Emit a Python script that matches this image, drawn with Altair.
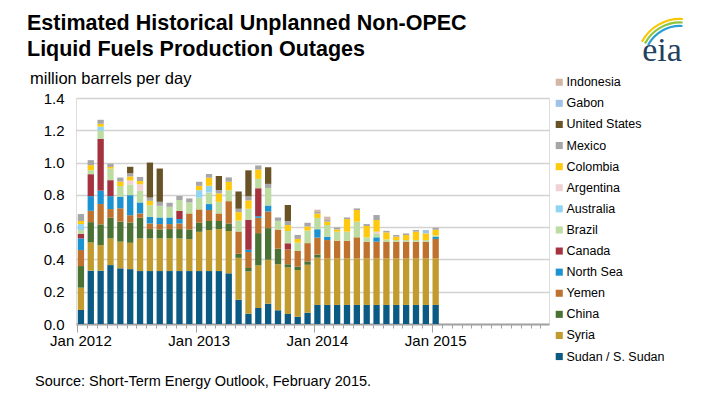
import altair as alt
import pandas as pd

# 48 monthly slots on the axis (Jan 2012 - Dec 2015); data run Jan 2012 - Jan 2015
years = [2012, 2013, 2014, 2015]
slots = [f"{y}-{m:02d}" for y in years for m in range(1, 13)]

series = ["Sudan / S. Sudan", "Syria", "China", "Yemen", "North Sea", "Canada", "Brazil",
          "Australia", "Argentina", "Colombia", "Mexico", "United States", "Gabon", "Indonesia"]
colors = ["#0b5a83", "#c29b2f", "#4a7234", "#bf722e", "#1b93d1", "#a4323f", "#bddca1",
          "#91d4f2", "#efd1d6", "#ffc90e", "#a6a6a8", "#685327", "#9fc3e6", "#d4b6a6"]

sudan = [.087, .33, .33, .365, .345, .34, .328, .328, .328, .328, .328, .328, .328, .328, .328, .314,
         .15, .064, .099, .126, .085, .062, .045, .07, .118, .118, .118, .118, .118, .118, .118, .118,
         .118, .118, .118, .118, .118]
syria = [.138, .175, .159, .165, .165, .163, .202, .202, .202, .202, .202, .198, .243, .254, .26, .262,
         .26, .262, .264, .272, .285, .289, .289, .297, .293, .289, .289, .289, .289, .289, .289, .289,
         .289, .289, .289, .289, .289]
china = [.134, .126, .128, .128, .124, .126, .128, .058, .056, .058, .058, .06, .056, .056, .05, .047,
         .025, .021, .2, .196, .097, .019, .021, .021, .019, 0, 0, 0, 0, 0, 0, 0,
         0, 0, 0, 0, 0]
yemen = [.099, .07, .126, .054, .083, .045, .027, .035, .033, .031, .035, .099, .083, .068, .047, .138,
         .138, .099, .095, .103, .118, .093, .099, .113, .105, .113, .109, .109, .13, .103, .103, .103,
         .103, .103, .103, .103, .12]
north_sea = [.072, .091, .083, .08, .072, .124, .068, .041, .041, .041, .027, 0, 0, .037, 0, 0,
             0, .014, .01, .037, 0, 0, 0, 0, .052, .021, 0, 0, 0, 0, .027, 0,
             0, 0, 0, 0, .012]
canada = [.029, .136, .32, .099, 0, 0, 0, 0, 0, 0, .05, 0, 0, 0, 0, 0,
          0, .186, .173, 0, 0, .037, 0, 0, 0, 0, 0, 0, 0, 0, 0, 0,
          0, 0, 0, 0, 0]
brazil = [.023, .025, .052, .072, .066, .066, .072, .072, .072, .066, .068, .068, .072, .072, .072, .068,
          .068, .068, .058, .109, .054, .076, .05, .078, .07, .072, .056, .056, .097, .027, .025, .014,
          .01, .01, .01, .01, .01]
australia = [.037, 0, .025, 0, 0, 0, 0, 0, 0, 0, 0, 0, .047, .041, 0, 0,
             0, 0, 0, 0, 0, 0, 0, 0, 0, 0, 0, 0, 0, 0, 0, 0,
             0, 0, 0, 0, 0]
argentina = [0, 0, 0, 0, 0, .025, .041, 0, 0, 0, 0, 0, 0, 0, 0, 0,
             0, 0, 0, 0, 0, 0, 0, 0, 0, 0, 0, 0, 0, 0, .01, 0,
             0, 0, 0, 0, 0]
colombia = [.019, .031, .017, .01, .027, .025, .02, .027, 0, 0, 0, 0, .027, .05, .052, .052,
            .052, .052, .058, 0, 0, .037, .023, .025, .027, .021, .014, .078, .072, .07, .072, .043,
            .021, .031, .052, .041, .035]
mexico = [.043, .031, .025, .02, .025, .02, .025, .02, .025, .025, .025, .025, .025, .023, .021, .027,
          .021, .025, .025, .025, .021, .025, .025, .023, .01, .01, .012, .01, .01, .012, .031, .01,
          .01, .01, .01, 0, .012]
united_states = [0, 0, 0, 0, 0, .04, 0, .217, .206, 0, 0, 0, 0, 0, .087, 0,
                 .107, .161, 0, .103, 0, .099, 0, 0, 0, 0, 0, 0, 0, 0, 0, 0,
                 0, 0, 0, 0, 0]
gabon = [0, 0, 0, 0, 0, 0, 0, 0, 0, 0, 0, 0, 0, 0, 0, 0,
         0, 0, 0, 0, 0, 0, 0, 0, 0, 0, 0, 0, 0, 0, 0, 0,
         0, 0, 0, .021, 0]
indonesia = [0, 0, 0, 0, 0, 0, 0, 0, 0, 0, 0, 0, 0, 0, 0, 0,
             0, 0, 0, 0, 0, 0, 0, 0, .014, .021, 0, 0, 0, 0, 0, 0,
             0, 0, 0, 0, 0]

values = [sudan, syria, china, yemen, north_sea, canada, brazil, australia, argentina,
          colombia, mexico, united_states, gabon, indonesia]

rows = []
for i, (name, vals) in enumerate(zip(series, values)):
    for k, v in enumerate(vals):
        rows.append({"month": slots[k], "series": name, "value": v, "order": i})
df = pd.DataFrame(rows)

legend_order = series[::-1]
legend_colors = colors[::-1]

FONT = "Liberation Sans"

bars = alt.Chart(df).mark_bar().encode(
    x=alt.X("month:O",
            scale=alt.Scale(domain=slots, paddingInner=0.36, paddingOuter=0.18),
            axis=alt.Axis(title=None, labelAngle=0, labelOverlap=False,
                          labelExpr="slice(datum.value,5)=='01' ? 'Jan ' + slice(datum.value,0,4) : ''",
                          labelFontSize=15, labelColor="#000000", labelFont=FONT, labelPadding=1,
                          bandPosition=0, domainColor="#a3a3a3", domainWidth=2,
                          tickColor="#a3a3a3", tickWidth=1,
                          tickSize={"condition": {"test": "slice(datum.value,5)=='01'", "value": 8}, "value": 4},
                          grid=False)),
    y=alt.Y("value:Q", stack="zero",
            scale=alt.Scale(domain=[0, 1.4], nice=False),
            axis=alt.Axis(title=None, values=[0, 0.2, 0.4, 0.6, 0.8, 1.0, 1.2, 1.4], format=".1f",
                          domain=False, ticks=False, labelFontSize=15, labelColor="#000000",
                          labelFont=FONT, labelPadding=12, gridColor="#d2d2d2", gridWidth=1.5)),
    color=alt.Color("series:N", scale=alt.Scale(domain=legend_order, range=legend_colors),
                    legend=alt.Legend(orient="none", legendX=477, legendY=-22, title=None,
                                      symbolType="square", symbolSize=50, symbolStrokeWidth=0,
                                      labelFontSize=12.5, labelFont=FONT, labelColor="#000000",
                                      rowPadding=8.1, labelOffset=1)),
    order=alt.Order("order:Q", sort="ascending"),
)

one = pd.DataFrame({"a": [0]})

def txt(text, x, y, size, bold=False, font=FONT, color="#000000"):
    return alt.Chart(one).mark_text(text=text, align="left", baseline="alphabetic", fontSize=size,
                                    fontWeight="bold" if bold else "normal", font=font,
                                    color=color).encode(x=alt.value(x), y=alt.value(y))

title1 = txt("Estimated Historical Unplanned Non-OPEC", -49, -68.5, 21.5, bold=True)
title2 = txt("Liquid Fuels Production Outages", -49, -42.5, 21.5, bold=True)
subtitle = txt("million barrels per day", -46, -14, 16.5)
source = txt("Source: Short-Term Energy Outlook, February 2015.", -41, 288, 14.5)
logo = alt.Chart(one).mark_text(text="eia", align="center", baseline="alphabetic", fontSize=34,
                                font="Liberation Serif", color="#23405f").encode(
    x=alt.value(586), y=alt.value(-37))

def arc(r, color):
    return alt.Chart(one).mark_arc(radius=r, radius2=r + 2.2, theta=5.2, theta2=6.35, color=color).encode(
        x=alt.value(604), y=alt.value(-36))

arcs = arc(42, "#f6c700") + arc(38.5, "#8cc63f") + arc(35, "#2a9fd6")

chart = alt.layer(bars, title1, title2, subtitle, source, arcs, logo).properties(
    width=473, height=226,
    autosize=alt.AutoSizeParams(type="none"),
    padding={"left": 68, "top": 90, "right": 148, "bottom": 79},
).configure_view(stroke=None).configure(font=FONT)

chart.save("out.html", embed_options={"renderer": "svg", "actions": False})
